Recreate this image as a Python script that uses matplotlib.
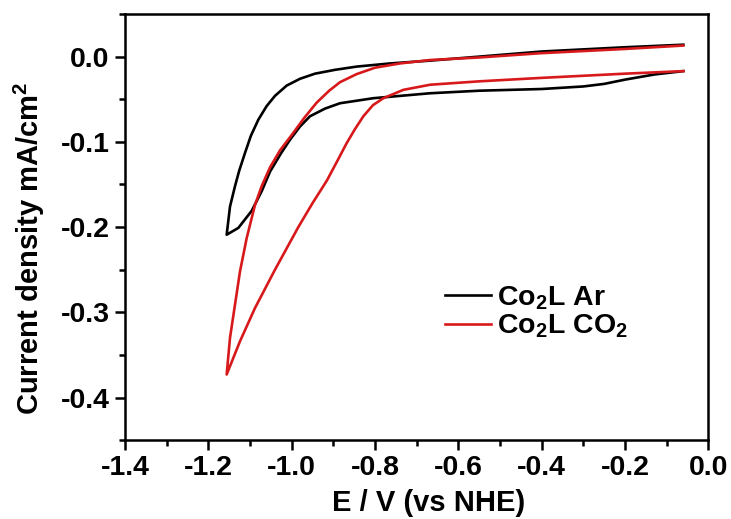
import numpy as np
import matplotlib
matplotlib.use('Agg')
import matplotlib.pyplot as plt
from matplotlib.ticker import MultipleLocator

plt.rcParams['font.family'] = ['Liberation Sans', 'DejaVu Sans']
plt.rcParams['font.weight'] = 'bold'
plt.rcParams['mathtext.fontset'] = 'custom'
plt.rcParams['mathtext.rm'] = 'Liberation Sans:bold'
plt.rcParams['mathtext.bf'] = 'Liberation Sans:bold'
plt.rcParams['mathtext.it'] = 'Liberation Sans:bold'

# Co2L under Ar: potential (V vs NHE) and current density (mA/cm2)
# forward sweep (right -> left), then return sweep (left -> right)
ar_E = [-0.06, -0.2, -0.4, -0.55, -0.668, -0.764, -0.844, -0.896, -0.944, -0.98,
        -1.012, -1.04, -1.06, -1.08, -1.098, -1.112, -1.126, -1.136, -1.148, -1.156,
        -1.128, -1.096, -1.072, -1.052, -1.025, -1.004, -0.98, -0.956, -0.92,
        -0.884, -0.804, -0.668, -0.55, -0.4, -0.3, -0.25, -0.2, -0.13, -0.06]
ar_j = [0.014, 0.011, 0.006, 0.0, -0.0047, -0.008, -0.0117, -0.0155, -0.02, -0.026,
        -0.034, -0.046, -0.058, -0.074, -0.093, -0.113, -0.134, -0.152, -0.176, -0.209,
        -0.201, -0.181, -0.158, -0.135, -0.113, -0.0975, -0.082, -0.07, -0.061,
        -0.0547, -0.0488, -0.043, -0.040, -0.038, -0.035, -0.032, -0.027, -0.021, -0.017]

# Co2L under CO2
co2_E = [-0.06, -0.2, -0.403, -0.55, -0.668, -0.74, -0.8, -0.844, -0.884, -0.91,
         -0.94, -0.97, -1.0, -1.028, -1.052, -1.072, -1.088, -1.108, -1.124, -1.136,
         -1.148, -1.156,
         -1.124, -1.088, -1.04, -0.984, -0.95, -0.915, -0.89, -0.868, -0.848, -0.828,
         -0.805, -0.78, -0.732, -0.668, -0.55, -0.403, -0.2, -0.06]
co2_j = [0.013, 0.009, 0.004, -0.001, -0.004, -0.008, -0.013, -0.0205, -0.03, -0.04,
         -0.054, -0.072, -0.092, -0.11, -0.13, -0.152, -0.174, -0.213, -0.252, -0.291,
         -0.33, -0.373,
         -0.334, -0.295, -0.25, -0.2, -0.172, -0.145, -0.122, -0.1015, -0.085, -0.07,
         -0.057, -0.0488, -0.039, -0.033, -0.029, -0.025, -0.02, -0.017]

fig = plt.figure(figsize=(7.31, 5.19), dpi=100)
ax = fig.add_axes([0.171, 0.152, 0.798, 0.821])

ax.plot(ar_E, ar_j, color='black', lw=1.9, label='Co$_2$L Ar')
ax.plot(co2_E, co2_j, color='#d7191c', lw=1.9, label='Co$_2$L CO$_2$')

ax.set_xlim(-1.4, 0.0)
ax.set_ylim(-0.45, 0.05)
ax.xaxis.set_major_locator(MultipleLocator(0.2))
ax.xaxis.set_minor_locator(MultipleLocator(0.1))
ax.yaxis.set_major_locator(MultipleLocator(0.1))
ax.yaxis.set_minor_locator(MultipleLocator(0.05))
fmt = plt.FuncFormatter(lambda v, p: '%.1f' % v if abs(v) > 1e-9 else '0.0')
ax.xaxis.set_major_formatter(fmt)
ax.yaxis.set_major_formatter(fmt)

for s in ax.spines.values():
    s.set_linewidth(1.8)
ax.tick_params(which='major', direction='out', length=7, width=1.8, labelsize=20.5, pad=4)
ax.tick_params(which='minor', direction='out', length=4, width=1.8)
ax.tick_params(top=False, right=False)

ax.set_xlabel('E / V (vs NHE)', fontsize=21, fontweight='bold')
ax.set_ylabel('Current density mA/cm$^2$', fontsize=21, fontweight='bold')
ax.xaxis.set_label_coords(0.52, -0.115)
ax.yaxis.set_label_coords(-0.134, 0.45)

ax.legend(loc='center left', bbox_to_anchor=(0.549, 0.30), frameon=False,
          borderpad=0, borderaxespad=0, fontsize=20.5, handlelength=1.6,
          handletextpad=0.2, labelspacing=0.05)

fig.savefig('out.png', dpi=100)
